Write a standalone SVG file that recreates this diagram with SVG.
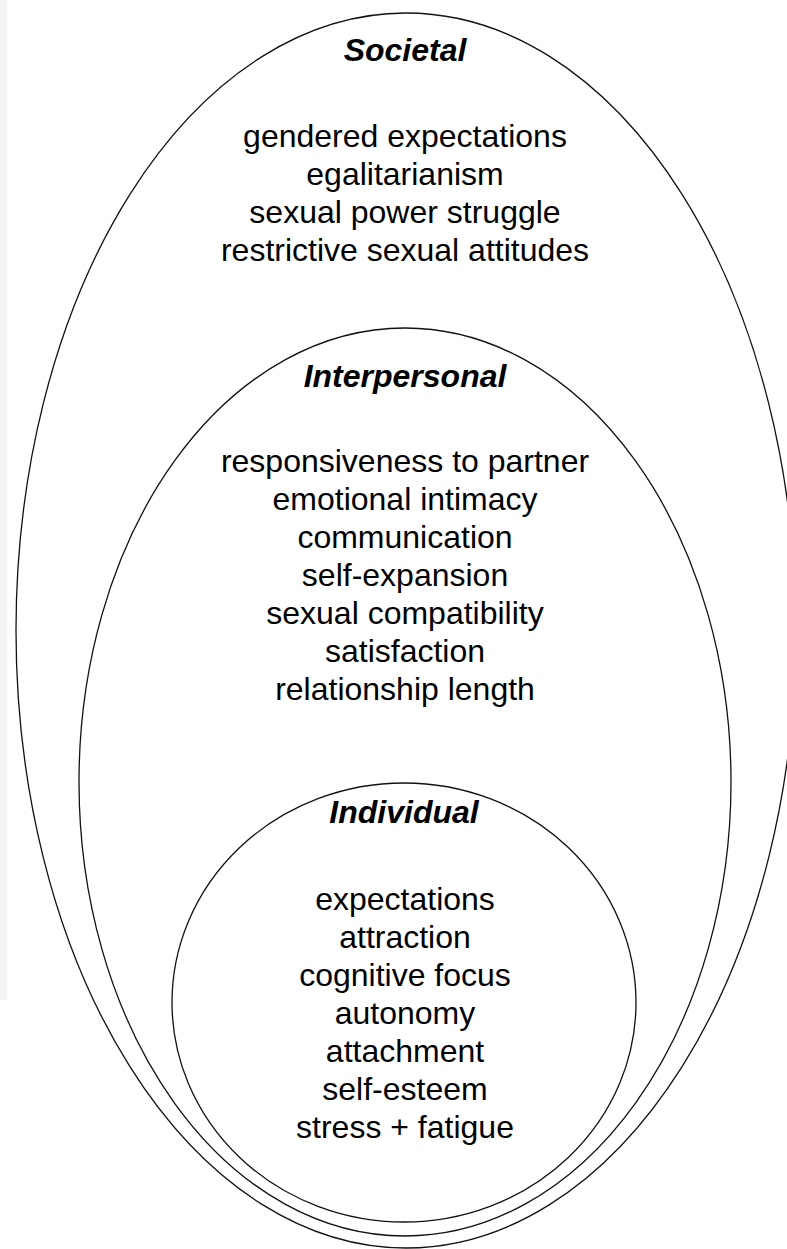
<svg xmlns="http://www.w3.org/2000/svg" width="787" height="1249" viewBox="0 0 787 1249">
<style>
.ring{fill:none;stroke:#111;stroke-width:1.3}
.title{font-family:"Liberation Sans",Arial,sans-serif;font-size:32px;font-weight:bold;font-style:italic;fill:#000;text-anchor:middle}
.item{font-family:"Liberation Sans",Arial,sans-serif;font-size:32px;fill:#000;text-anchor:middle}
</style>
<rect x="0" y="0" width="787" height="1249" fill="#fff"/>
<rect x="0" y="0" width="7" height="1000" fill="#f4f4f4"/>
<g id="societal">
<ellipse class="ring" cx="406" cy="630.5" rx="390" ry="617.5"/>
<text class="title" x="405" y="61">Societal</text>
<text class="item" x="405" y="147">gendered expectations</text>
<text class="item" x="405" y="185">egalitarianism</text>
<text class="item" x="405" y="223">sexual power struggle</text>
<text class="item" x="405" y="261">restrictive sexual attitudes</text>
</g>
<g id="interpersonal">
<ellipse class="ring" cx="405" cy="782" rx="326" ry="454"/>
<text class="title" x="405" y="387">Interpersonal</text>
<text class="item" x="405" y="472">responsiveness to partner</text>
<text class="item" x="405" y="510">emotional intimacy</text>
<text class="item" x="405" y="548">communication</text>
<text class="item" x="405" y="586">self-expansion</text>
<text class="item" x="405" y="624">sexual compatibility</text>
<text class="item" x="405" y="662">satisfaction</text>
<text class="item" x="405" y="700">relationship length</text>
</g>
<g id="individual">
<ellipse class="ring" cx="404" cy="1002.5" rx="232" ry="219.5"/>
<text class="title" x="404" y="823">Individual</text>
<text class="item" x="405" y="910">expectations</text>
<text class="item" x="405" y="948">attraction</text>
<text class="item" x="405" y="986">cognitive focus</text>
<text class="item" x="405" y="1024">autonomy</text>
<text class="item" x="405" y="1062">attachment</text>
<text class="item" x="405" y="1100">self-esteem</text>
<text class="item" x="405" y="1138">stress + fatigue</text>
</g>
<g id="connectors"></g>
</svg>
